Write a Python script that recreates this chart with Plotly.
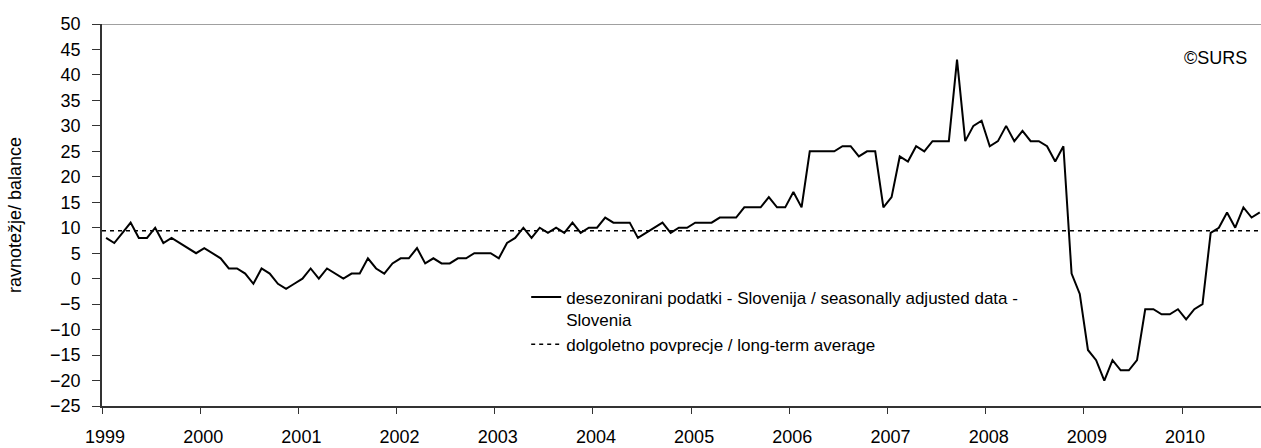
import numpy as np
import plotly.graph_objects as go

# ---- data (monthly, Jan 1999 - Oct 2010) ----
years = ["1999", "2000", "2001", "2002", "2003", "2004", "2005",
         "2006", "2007", "2008", "2009", "2010"]
v1999 = [8, 7, 9, 11, 8, 8, 10, 7, 8, 7, 6, 5]
v2000 = [6, 5, 4, 2, 2, 1, -1, 2, 1, -1, -2, -1]
v2001 = [0, 2, 0, 2, 1, 0, 1, 1, 4, 2, 1, 3]
v2002 = [4, 4, 6, 3, 4, 3, 3, 4, 4, 5, 5, 5]
v2003 = [4, 7, 8, 10, 8, 10, 9, 10, 9, 11, 9, 10]
v2004 = [10, 12, 11, 11, 11, 8, 9, 10, 11, 9, 10, 10]
v2005 = [11, 11, 11, 12, 12, 12, 14, 14, 14, 16, 14, 14]
v2006 = [17, 14, 25, 25, 25, 25, 26, 26, 24, 25, 25, 14]
v2007 = [16, 24, 23, 26, 25, 27, 27, 27, 43, 27, 30, 31]
v2008 = [26, 27, 30, 27, 29, 27, 27, 26, 23, 26, 1, -3]
v2009 = [-14, -16, -20, -16, -18, -18, -16, -6, -6, -7, -7, -6]
v2010 = [-8, -6, -5, 9, 10, 13, 10, 14, 12, 13]
long_term_average = 9.4

series = (v1999 + v2000 + v2001 + v2002 + v2003 + v2004 + v2005 +
          v2006 + v2007 + v2008 + v2009 + v2010)
n = len(series)
x_pts = np.arange(n) + 0.5          # centre of each monthly category
tick_pos = [12 * k for k in range(len(years))]

FONT = "Liberation Sans, Arial, sans-serif"

fig = go.Figure()
fig.add_trace(go.Scatter(
    x=x_pts, y=series, mode="lines",
    name="desezonirani podatki - Slovenija / seasonally adjusted data -<br>Slovenia",
    line=dict(color="#000000", width=2),
))
fig.add_trace(go.Scatter(
    x=[0, n + 1], y=[long_term_average, long_term_average], mode="lines",
    name="dolgoletno povprecje / long-term average",
    line=dict(color="#000000", width=1.6, dash="4px,4px"),
))

fig.update_layout(
    width=1261, height=448,
    margin=dict(l=102, r=0, t=24, b=42, autoexpand=False),
    paper_bgcolor="white", plot_bgcolor="white",
    font=dict(family=FONT, size=17, color="#000000"),
    showlegend=True,
    legend=dict(
        x=0.366, y=0.331, xanchor="left", yanchor="top",
        bgcolor="rgba(0,0,0,0)", borderwidth=0,
        font=dict(family=FONT, size=17, color="#000000"),
        valign="top", tracegroupgap=0,
    ),
    annotations=[dict(
        text="©SURS", xref="paper", yref="paper",
        x=0.961, y=0.911, xanchor="center", yanchor="middle",
        showarrow=False, font=dict(family=FONT, size=18, color="#000000"),
    )],
    shapes=[dict(
        type="line", xref="paper", yref="y", x0=0, x1=1, y0=50, y1=50,
        line=dict(color="#808080", width=1.3),
    )],
)

fig.update_xaxes(
    range=[0, 141.65], showgrid=False, zeroline=False,
    showline=True, linecolor="#333333", linewidth=1.5,
    ticks="outside", ticklen=6, tickwidth=1.3, tickcolor="#333333",
    tickvals=tick_pos, ticktext=years,
    tickfont=dict(family=FONT, size=18, color="#000000"),
    ticklabelstandoff=8, ticklabelshift=3,
)
fig.update_yaxes(
    range=[-25, 50], dtick=5, tick0=0, showgrid=False, zeroline=False,
    showline=True, linecolor="#333333", linewidth=1.5,
    ticks="outside", ticklen=8, tickwidth=1.3, tickcolor="#333333",
    tickfont=dict(family=FONT, size=18, color="#000000"),
    ticklabelstandoff=8,
    title=dict(text="ravnotežje/ balance", standoff=24,
               font=dict(family=FONT, size=18, color="#000000")),
    automargin=False,
)

# remove the default 8px page margin so the figure fills the window exactly
fig.write_html(
    "out.html",
    config={"displayModeBar": False},
    post_script="document.body.style.margin='0';document.body.style.overflow='hidden';",
)
